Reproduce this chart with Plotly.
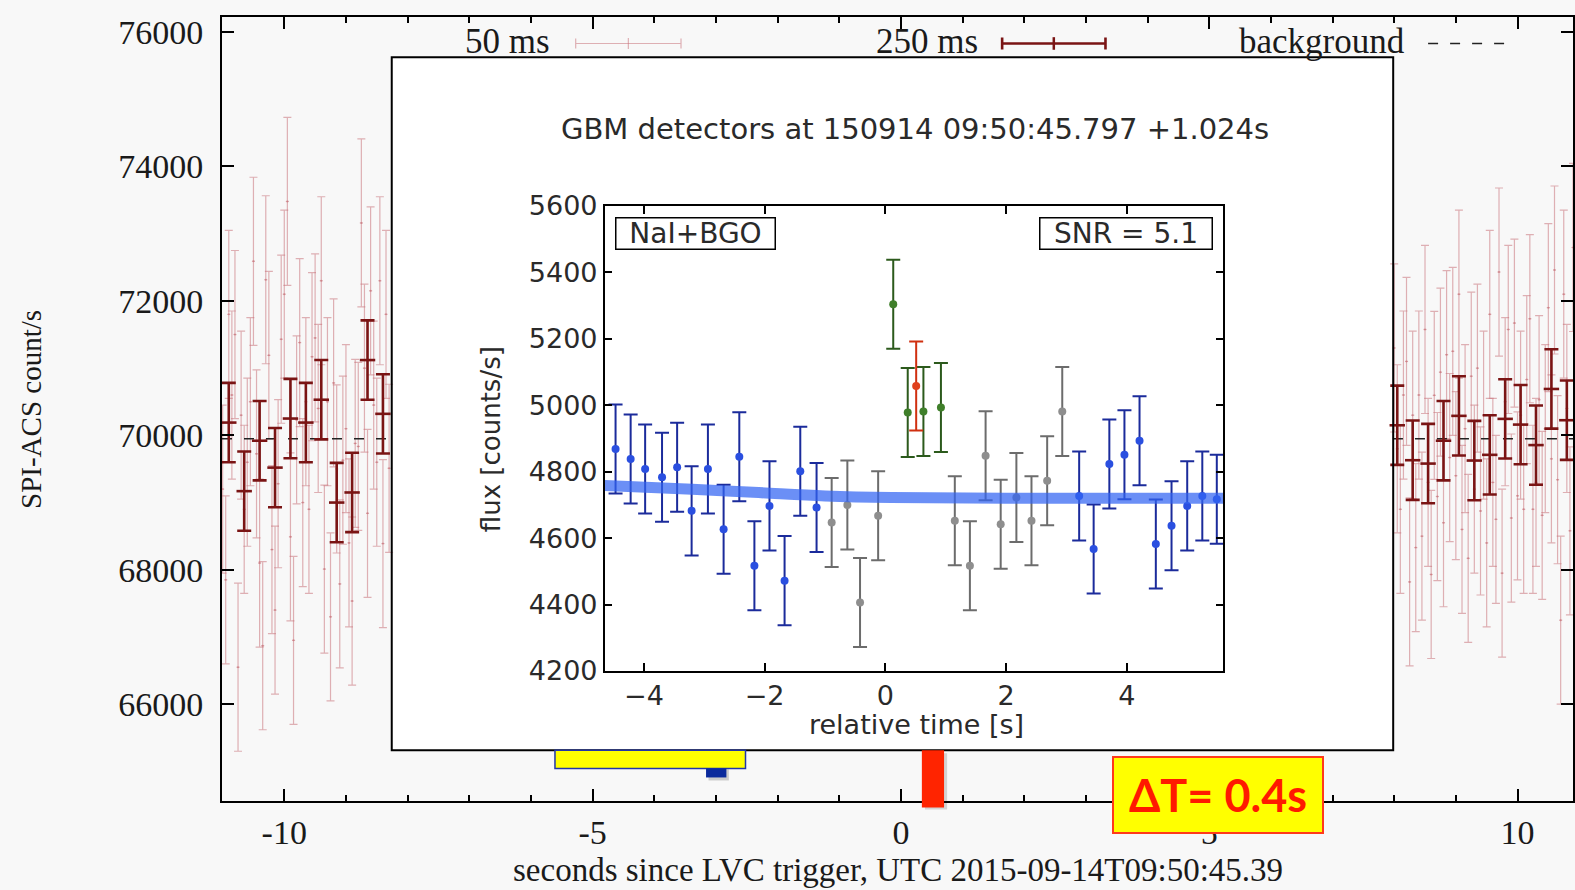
import numpy as np
import plotly.graph_objects as go

# ---------------- main plot (SPI-ACS) data ----------------
# 50 ms bins, visible left part (t = -11.00 ... -8.30) and right part (t = 8.00 ... 10.90)
t50_left_start, t50_right_start, bin50 = -11.00, 8.00, 0.05
acs50_left = [69200, 67850, 71800, 70600, 71500,
              66550, 70300, 68900, 69600, 70500,
              72590, 69725, 68100, 66870, 72315,
              71190, 68300, 67400, 69280, 71430,
              72100, 73480, 68490, 66950, 70230,
              71380, 69000, 70500, 68900, 71170,
              71450, 70400, 72300, 68010, 70500,
              67300, 70780, 69500, 67790, 69630,
              70100, 68400, 67535, 69880, 69835,
              73160, 71000, 68840, 72150, 70450,
              69600, 72300, 68390, 71800, 69510]
acs50_right = [71300, 69800, 68900, 70600,
               71100, 67820, 70300, 68330, 70600,
               68500, 71575, 69300, 67930, 70595,
               69090, 70940, 68700, 71200, 69670,
               71250, 69400, 72100, 68600, 70100,
               68170, 70880, 69200, 71000, 68875,
               70300, 68400, 71800, 69300, 68750,
               72430, 67950, 70500, 71575, 68770,
               71670, 69100, 70300, 68900, 70830,
               71735, 68900, 69300, 70530, 68810,
               70100, 71900, 69650, 72460, 69340,
               67250, 72100, 70400, 68580, 72795]
err50 = 1250

# 250 ms bins
t250 = [-10.90, -10.65, -10.40, -10.15, -9.90, -9.65, -9.40, -9.15, -8.90, -8.65, -8.40,
        8.05, 8.30, 8.55, 8.80, 9.05, 9.30, 9.55, 9.80, 10.05, 10.30, 10.55, 10.80]
acs250 = [70190, 69170, 69920, 69520, 70250, 70190, 70530, 69000, 69150, 71120, 70320,
          70150, 69630, 69580, 69920, 70290, 69625, 69710, 70245, 70160, 69855, 70690, 70225]
err250 = 590

bg_level = 69950
visible_left = [-11.01, -8.25]
visible_right = [7.98, 10.90]

y_ticks = [66000, 68000, 70000, 72000, 74000, 76000]
x_ticks = [-10, -5, 0, 5, 10]

# ---------------- inset (GBM) data ----------------
blue_t = [-4.47, -4.22, -3.98, -3.70, -3.45, -3.21, -2.94, -2.68, -2.42, -2.17, -1.92, -1.67,
          -1.41, -1.14, 3.21, 3.45, 3.71, 3.96, 4.21, 4.48, 4.74, 5.00, 5.25, 5.49]
blue_v = [4868, 4838, 4808, 4783, 4813, 4682, 4808, 4627, 4845, 4517, 4697, 4472,
          4801, 4692, 4727, 4567, 4823, 4851, 4893, 4582, 4637, 4697, 4727, 4717]
gray_t = [-0.89, -0.63, -0.42, -0.12, 1.15, 1.40, 1.66, 1.91, 2.17, 2.42, 2.68, 2.93]
gray_v = [4647, 4700, 4406, 4667, 4652, 4517, 4848, 4642, 4722, 4652, 4773, 4981]
green_t = [0.13, 0.37, 0.63, 0.92]
green_v = [5304, 4978, 4981, 4993]
red_t = [0.51]
red_v = [5058]
gbm_err = 134
bgfit_t = [-4.65, -3.2, -2.1, -1.0, 0.1, 2.0, 5.60]
bgfit_v = [4758, 4747, 4737, 4727, 4722, 4720, 4720]
inset_x_ticks = [-4, -2, 0, 2, 4]
inset_y_ticks = [4200, 4400, 4600, 4800, 5000, 5200, 5400, 5600]

# time intervals marked below the inset
yellow_iv = [-5.61, -2.52]
blue_iv = [-3.16, -2.83]
red_iv = [0.34, 0.70]

# ---------------- helpers (reference pixel -> paper) ----------------
W, H = 1575, 890
S = 1575 / 1568          # measured positions come from the 1568-wide view
L, R, T, B = 222, 1573, 17, 801


def px(xp):
    return (xp * S - L) / (R - L)


def py(yp):
    return (B - yp * S) / (B - T)


SERIF = "Liberation Serif"
SANS = "DejaVu Sans"

fig = go.Figure()

t50 = list(np.round(t50_left_start + bin50 * np.arange(len(acs50_left)), 3)) + \
      list(np.round(t50_right_start + bin50 * np.arange(len(acs50_right)), 3))
pink = "rgba(200,115,122,0.55)"
fig.add_trace(go.Scatter(
    x=t50, y=acs50_left + acs50_right, mode="markers",
    marker=dict(size=2, color=pink),
    error_y=dict(type="constant", value=err50, color=pink, thickness=1.2, width=4),
    error_x=dict(type="constant", value=bin50 / 2, color=pink, thickness=1.2, width=0),
    showlegend=False, hoverinfo="skip"))

fig.add_trace(go.Scatter(
    x=[visible_left[0], visible_left[1], None, visible_right[0], visible_right[1]],
    y=[bg_level, bg_level, None, bg_level, bg_level], mode="lines",
    line=dict(color="#222222", width=1.5, dash="10px,12px"),
    showlegend=False, hoverinfo="skip"))

dark = "#7a1414"
fig.add_trace(go.Scatter(
    x=t250, y=acs250, mode="markers",
    marker=dict(size=2, color=dark),
    error_y=dict(type="constant", value=err250, color=dark, thickness=2.6, width=7),
    error_x=dict(type="constant", value=0.125, color=dark, thickness=2.6, width=0),
    showlegend=False, hoverinfo="skip"))

# legend samples (key row at the top of the main frame)
key_y = 75830
fig.add_trace(go.Scatter(
    x=[-4.42], y=[key_y], mode="markers",
    marker=dict(symbol="line-ns", size=8, line=dict(color=pink, width=1.2)),
    error_x=dict(type="constant", value=0.854, color=pink, thickness=1.2, width=5),
    showlegend=False, hoverinfo="skip"))
fig.add_trace(go.Scatter(
    x=[2.48], y=[key_y], mode="markers",
    marker=dict(symbol="line-ns", size=9, line=dict(color=dark, width=2.5)),
    error_x=dict(type="constant", value=0.838, color=dark, thickness=2.6, width=6),
    showlegend=False, hoverinfo="skip"))
fig.add_trace(go.Scatter(
    x=[8.55, 9.93], y=[key_y, key_y], mode="lines",
    line=dict(color="#222222", width=1.5, dash="10px,12px"),
    showlegend=False, hoverinfo="skip"))

# ---------------- inset traces ----------------
def gbm(tx, vy, mcol, ecol):
    fig.add_trace(go.Scatter(
        x=tx, y=vy, mode="markers", xaxis="x2", yaxis="y2",
        marker=dict(size=8, color=mcol),
        error_y=dict(type="constant", value=gbm_err, color=ecol, thickness=2, width=7),
        showlegend=False, hoverinfo="skip"))


gbm(gray_t, gray_v, "#8e8e8e", "#6c6c6c")
gbm(blue_t, blue_v, "#2a4fe0", "#1b2b9b")
gbm(green_t, green_v, "#3f7f2a", "#2c5a1c")
gbm(red_t, red_v, "#e0401c", "#d03010")
fig.add_trace(go.Scatter(
    x=bgfit_t, y=bgfit_v, mode="lines", xaxis="x2", yaxis="y2",
    line=dict(color="rgba(50,100,242,0.72)", width=11, shape="spline"),
    showlegend=False, hoverinfo="skip"))

# ---------------- layout ----------------
axis_common = dict(showgrid=False, zeroline=False, showline=True, linecolor="black",
                   mirror="ticks", ticks="inside", tickcolor="black", automargin=False)
fig.update_layout(
    width=W, height=H,
    margin=dict(l=L, r=W - R, t=T, b=H - B, autoexpand=False),
    paper_bgcolor="#f8f8f8", plot_bgcolor="rgba(0,0,0,0)",
    xaxis=dict(range=[-11.01, 10.90], tickvals=x_ticks, ticktext=[str(v) for v in x_ticks],
               ticklen=12, tickwidth=1.5, linewidth=2,
               minor=dict(dtick=1, ticks="inside", ticklen=6, tickcolor="black", tickwidth=1.5),
               tickfont=dict(family=SERIF, size=34, color="#1a1a1a"),
               **axis_common),
    yaxis=dict(range=[64560, 76224], tickvals=y_ticks, ticktext=[str(v) for v in y_ticks],
               ticklen=12, tickwidth=1.5, linewidth=2,
               tickfont=dict(family=SERIF, size=34, color="#1a1a1a"), ticklabelstandoff=10,
               **axis_common),
    xaxis2=dict(domain=[px(602), px(1218)], anchor="y2", range=[-4.65, 5.60],
                tickvals=inset_x_ticks, ticklen=8, tickwidth=1.5, linewidth=1.5,
                tickfont=dict(family=SANS, size=27, color="#2a2a2a"),
                **axis_common),
    yaxis2=dict(domain=[py(668), py(205)], anchor="x2", range=[4200, 5600],
                tickvals=inset_y_ticks, ticklen=8, tickwidth=1.5,
                linewidth=1.5, tickfont=dict(family=SANS, size=27, color="#2a2a2a"),
                **axis_common),
)

shapes = []
# inset panel: white fill below data, frame above
shapes.append(dict(type="rect", xref="paper", yref="paper", x0=px(390), x1=px(1387), y0=py(747), y1=py(57),
                   fillcolor="white", line=dict(width=0), layer="below"))
shapes.append(dict(type="rect", xref="paper", yref="paper", x0=px(390), x1=px(1387), y0=py(747), y1=py(57),
                   fillcolor="rgba(0,0,0,0)", line=dict(color="black", width=2), layer="above"))
# marked intervals
shapes.append(dict(type="rect", xref="x", yref="paper", x0=blue_iv[0] + 0.04, x1=blue_iv[1] + 0.04,
                   y0=py(777), y1=py(766), fillcolor="rgba(0,0,0,0.18)", line=dict(width=0), layer="above"))
shapes.append(dict(type="rect", xref="x", yref="paper", x0=yellow_iv[0], x1=yellow_iv[1],
                   y0=py(765), y1=py(747), fillcolor="#ffff00", line=dict(color="#2236a8", width=1.5), layer="above"))
shapes.append(dict(type="rect", xref="x", yref="paper", x0=blue_iv[0], x1=blue_iv[1],
                   y0=py(774), y1=py(765), fillcolor="#0b2a9c", line=dict(width=0), layer="above"))
shapes.append(dict(type="rect", xref="x", yref="paper", x0=red_iv[0] + 0.05, x1=red_iv[1] + 0.05,
                   y0=py(806), y1=py(750), fillcolor="rgba(0,0,0,0.15)", line=dict(width=0), layer="above"))
shapes.append(dict(type="rect", xref="x", yref="paper", x0=red_iv[0], x1=red_iv[1],
                   y0=py(804), y1=py(747), fillcolor="#ff2400", line=dict(width=0), layer="above"))
fig.update_layout(shapes=shapes)

ann = []
# main axis titles
ann.append(dict(text="seconds since LVC trigger, UTC 2015-09-14T09:50:45.39", xref="paper", yref="paper",
                x=px(894), y=py(866), showarrow=False, xanchor="center", yanchor="middle",
                font=dict(family=SERIF, size=33, color="#1a1a1a")))
ann.append(dict(text="SPI-ACS count/s", xref="paper", yref="paper", x=px(31), y=py(408), textangle=-90,
                showarrow=False, xanchor="center", yanchor="middle",
                font=dict(family=SERIF, size=29, color="#1a1a1a")))
# key row
for txt, xr in [("50 ms", 550), ("250 ms", 976), ("background", 1401)]:
    ann.append(dict(text=txt, xref="paper", yref="paper", x=px(xr), y=py(41), showarrow=False,
                    xanchor="right", yanchor="middle", font=dict(family=SERIF, size=35, color="#1a1a1a")))
# inset texts
ann.append(dict(text="GBM detectors at 150914 09:50:45.797 +1.024s", xref="paper", yref="paper",
                x=px(911), y=py(128), showarrow=False, xanchor="center", yanchor="middle",
                font=dict(family=SANS, size=29, color="#2a2a2a")))
ann.append(dict(text="relative time [s]", xref="paper", yref="paper", x=px(912), y=py(721), showarrow=False,
                xanchor="center", yanchor="middle", font=dict(family=SANS, size=27, color="#2a2a2a")))
ann.append(dict(text="flux [counts/s]", xref="paper", yref="paper", x=px(489), y=py(437), textangle=-90,
                showarrow=False, xanchor="center", yanchor="middle",
                font=dict(family=SANS, size=26, color="#2a2a2a")))
ann.append(dict(text="NaI+BGO", xref="paper", yref="paper", x=px(692), y=py(232), showarrow=False,
                xanchor="center", yanchor="middle", width=158, height=30, borderpad=0,
                bgcolor="white", bordercolor="black", borderwidth=1.5,
                font=dict(family=SANS, size=28, color="#2a2a2a")))
ann.append(dict(text="SNR = 5.1", xref="paper", yref="paper", x=px(1121), y=py(232), showarrow=False,
                xanchor="center", yanchor="middle", width=171, height=30, borderpad=0,
                bgcolor="white", bordercolor="black", borderwidth=1.5,
                font=dict(family=SANS, size=28, color="#2a2a2a")))
# delta-T label
ann.append(dict(text="<b>ΔT= 0.4s</b>", xref="paper", yref="paper", x=px(1212.5), y=py(791.5), showarrow=False,
                xanchor="center", yanchor="middle", width=208, height=74, borderpad=0,
                bgcolor="#ffff00", bordercolor="#ff3a1a", borderwidth=2,
                font=dict(family="Lato", size=45, color="#ff1a00")))
fig.update_layout(annotations=ann)

fig.write_html("out.html")
